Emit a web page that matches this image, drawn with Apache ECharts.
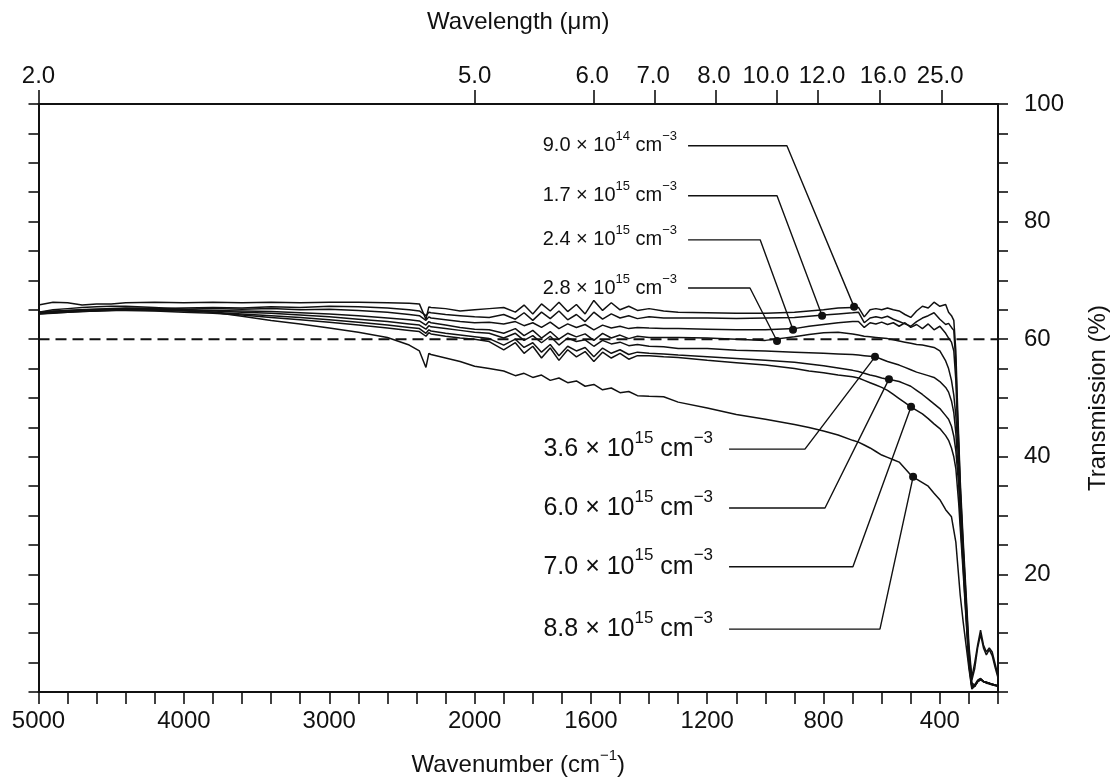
<!DOCTYPE html>
<html><head><meta charset="utf-8">
<script src="https://cdn.jsdelivr.net/npm/echarts@6/dist/echarts.min.js"></script>
<style>html,body{margin:0;padding:0;background:#fff}#c{width:1111px;height:782px}</style>
</head><body><div id="c"></div>
<script>
// ---------- DATA ----------
// shared wavenumber grid (cm^-1), 88 points
const wavenumber = [
 5000,4900,4800,4700,4600,4500,4400,
 4200,4000,3800,3600,3400,3200,3000,
 2800,2600,2450,2380,2335,2315,2300,
 2200,2100,2000,1950,1900,1860,1830,
 1800,1770,1740,1710,1680,1650,1620,
 1590,1560,1530,1500,1470,1440,1400,
 1350,1300,1200,1100,1000,900,850,
 800,750,700,680,660,640,620,
 600,580,560,540,520,500,480,
 460,440,420,400,380,370,360,
 352,345,340,335,330,320,310,
 300,290,280,270,260,250,240,
 230,220,210,200];

// transmission (%) per free-carrier concentration
const T_9_0e14 = [
 65.8,66.3,66.2,65.8,66.0,66.0,66.2,
 66.3,66.2,66.3,66.2,66.3,66.2,66.3,
 66.3,66.2,66.1,66.0,63.4,65.5,65.4,
 65.2,64.8,65.0,65.2,65.4,64.6,65.8,
 64.3,66.0,64.8,66.3,64.7,65.9,64.3,
 66.6,64.9,66.2,65.0,65.6,64.9,65.2,
 64.8,64.6,64.5,64.4,64.4,64.6,64.8,
 65.0,65.3,65.4,65.4,63.8,65.0,65.2,
 65.0,65.3,65.0,64.8,64.2,63.7,64.8,
 65.6,65.3,66.3,65.6,65.9,64.6,64.0,
 63.2,58,50,43,36,26,17,
 8,2.5,5.0,8.0,10.5,8.0,6.8,
 7.5,6.8,4.8,2.8];
const T_1_7e15 = [
 64.6,64.7,64.9,65.0,65.1,65.2,65.3,
 65.2,65.3,65.4,65.3,65.5,65.4,65.6,
 65.5,65.3,65.0,64.8,64.0,64.6,64.5,
 64.2,64.0,63.8,63.7,64.2,63.4,64.5,
 63.2,64.6,63.5,64.8,63.3,64.2,63.0,
 64.6,63.4,64.3,63.6,64.0,63.5,63.8,
 63.6,63.6,63.6,63.5,63.6,63.7,63.9,
 64.1,64.3,64.5,64.6,62.8,63.6,63.8,
 63.6,63.9,63.4,63.0,62.6,62.2,63.0,
 63.6,64.0,64.5,63.4,62.5,62.7,62.0,
 61.5,56,48,42,35,25,16,
 7,2.0,4.0,7.5,9.8,7.5,6.3,
 7.2,6.2,4.2,2.4];
const T_2_4e15 = [
 64.6,64.8,64.9,65.0,65.1,65.1,65.2,
 65.2,65.1,65.2,65.1,65.2,65.0,65.1,
 64.9,64.6,64.2,64.0,63.2,63.8,63.6,
 63.3,63.0,62.8,62.9,62.6,63.0,62.3,
 62.8,62.0,62.9,61.8,62.6,62.0,62.5,
 61.6,62.4,61.9,62.2,61.8,62.0,61.9,
 61.8,61.8,61.7,61.6,61.6,61.8,62.2,
 62.5,62.8,63.0,63.0,62.0,62.8,62.6,
 62.9,62.5,62.8,62.2,62.8,62.0,62.5,
 61.8,62.6,61.6,62.2,61.0,60.2,59.5,
 58,53,46,41,34,24,15,
 6.5,1.5,1.2,2.0,2.3,1.8,1.7,
 1.5,1.3,1.2,1.1];
const T_2_8e15 = [
 64.4,64.5,64.6,64.7,64.8,64.9,65.0,
 65.0,65.0,64.9,64.8,64.7,64.5,64.3,
 64.0,63.6,63.3,63.1,62.4,63.0,62.8,
 62.4,62.0,61.7,61.6,61.0,61.8,60.6,
 61.5,60.2,61.3,60.0,61.0,60.4,60.9,
 59.8,61.0,60.2,60.7,60.1,60.5,60.3,
 60.3,60.3,60.2,60.0,59.8,60.4,60.8,
 61.1,61.2,60.9,60.7,60.5,60.4,60.3,
 60.2,60.1,59.9,59.7,59.5,59.3,59.1,
 59.0,58.8,58.6,58.0,56.3,55.0,53.0,
 50.5,47,43,39,33,23.5,14.5,
 6,1.2,1.0,1.8,2.1,1.7,1.6,
 1.4,1.2,1.1,1.0];
const T_3_6e15 = [
 64.4,64.6,64.8,64.9,65.0,65.1,65.1,
 65.0,64.9,64.8,64.6,64.4,64.1,63.8,
 63.4,63.0,62.6,62.4,61.7,62.3,62.1,
 61.8,61.5,61.2,61.0,60.2,61.0,59.8,
 60.6,59.4,60.5,59.0,60.2,59.6,59.9,
 58.8,59.8,59.2,59.5,58.9,59.1,58.8,
 58.7,58.4,58.4,58.1,58.0,57.8,57.7,
 57.6,57.5,57.4,57.3,57.2,57.1,57.0,
 56.6,56.2,55.9,55.6,55.2,54.8,54.4,
 54.1,53.8,53.5,52.8,51.8,51.0,49.5,
 47.5,44,40,37,31,22.5,14,
 5.5,1.0,1.0,1.8,2.2,1.8,1.6,
 1.5,1.3,1.2,1.0];
const T_6_0e15 = [
 64.3,64.5,64.7,64.8,64.9,65.0,65.0,
 64.9,64.8,64.6,64.3,64.0,63.7,63.3,
 62.9,62.4,62.0,61.8,61.0,61.6,61.4,
 61.0,60.7,60.4,60.1,59.0,60.0,58.6,
 59.4,57.8,59.1,57.2,58.8,58.0,58.6,
 57.0,58.5,57.6,58.2,57.4,57.8,57.6,
 57.5,57.3,57.0,56.7,56.4,56.1,55.8,
 55.5,55.1,54.7,54.5,54.2,53.9,53.7,
 53.4,53.2,53.0,52.8,52.4,52.0,51.3,
 50.6,49.8,49.0,48.2,47.0,46.4,45.2,
 43.5,41,38,35,29.5,21.5,13,
 5,1.0,1.0,1.7,2.1,1.8,1.5,
 1.4,1.3,1.1,1.0];
const T_7_0e15 = [
 64.3,64.4,64.6,64.7,64.8,64.9,64.9,
 64.8,64.6,64.4,64.1,63.7,63.3,62.9,
 62.4,61.9,61.5,61.3,60.5,61.1,60.9,
 60.5,60.2,60.0,59.6,58.2,59.4,57.6,
 58.8,56.8,58.5,56.4,58.2,57.0,57.9,
 56.2,57.8,56.8,57.6,56.6,57.2,57.2,
 57.0,56.9,56.4,56.0,55.6,55.0,54.6,
 54.3,53.9,53.6,53.4,53.0,52.6,52.2,
 51.8,51.3,50.6,49.9,49.2,48.5,47.9,
 47.3,46.5,45.6,44.8,43.6,42.8,41.5,
 40,38,35,32,28,20.5,12.5,
 4.5,0.8,1.0,1.8,2.2,1.8,1.6,
 1.5,1.3,1.2,1.0];
const T_8_8e15 = [
 64.6,65.0,65.2,65.4,65.5,65.6,65.6,
 65.4,65.1,64.6,63.9,63.2,62.6,61.9,
 61.2,60.3,59.0,58.0,55.2,57.6,57.4,
 56.8,56.2,55.4,55.0,54.6,53.8,54.2,
 53.5,53.9,53.0,53.4,52.6,52.9,52.0,
 52.3,51.4,51.7,50.9,51.1,50.4,50.3,
 50.2,49.3,48.3,47.2,46.4,45.5,45.0,
 44.4,43.7,42.8,42.5,42.0,41.5,40.9,
 40.3,39.9,39.5,39.1,38.0,36.9,36.2,
 35.6,35.0,33.8,32.7,31.0,30.4,29.8,
 27.5,25.5,22.5,19.5,16.5,12,8,
 4,0.5,1.0,1.8,2.2,1.8,1.6,
 1.5,1.3,1.2,1.0];

const curves = [T_9_0e14,T_1_7e15,T_2_4e15,T_2_8e15,T_3_6e15,T_6_0e15,T_7_0e15,T_8_8e15];

// annotation labels
const mantissas = ['9.0','1.7','2.4','2.8','3.6','6.0','7.0','8.8'];
const exponents = ['14','15','15','15','15','15','15','15'];
const dotWavenumber    = [695, 805, 905, 960, 623, 575, 499, 492];
const dotTransmission  = [65.5, 64.0, 61.6, 59.7, 57.0, 53.2, 48.5, 36.6];
const elbowWavenumber  = [926, 960, 1018, 1053, 864, 795, 699, 606];
const labelTransmission= [92.9, 84.4, 76.9, 68.7, 41.3, 31.3, 21.3, 10.7];
const labelStartWavenumber = [1266,1266,1266,1266,1125,1125,1125,1125];

// axis tick labels
const bottomLabels = [5000,4000,3000,2000,1600,1200,800,400];
const topTickLabels = ['2.0','5.0','6.0','7.0','8.0','10.0','12.0','16.0','25.0'];
const topTickWavenumbers  = [5000,2000,1589,1380,1170,960,821,605,392]; // tick marks as drawn in the figure
const topLabelWavenumbers = [5000,2000,1596,1386,1177,998,805,595,399]; // label centres as drawn
const rightLabels = [20,40,60,80,100];
const referenceLevel = 60;

// ---------- piecewise axis (scale doubles below 2000 cm^-1) ----------
function toT(w){ return w >= 2000 ? 5000 - w : 3000 + 2*(2000 - w); }
function toW(t){ return t <= 3000 ? 5000 - t : 2000 - (t - 3000)/2; }

const F = "'Liberation Sans', Arial, Helvetica, sans-serif";
const INK = '#111';

const series = [];
series.push({
  type:'line', data:[[toT(5000),referenceLevel],[toT(200),referenceLevel]],
  symbol:'none', lineStyle:{color:INK,width:2,type:[11,6]}, silent:true, z:1
});
curves.forEach(c => {
  series.push({
    type:'line', data: wavenumber.map((w,i)=>[toT(w), c[i]]),
    symbol:'none', lineStyle:{color:INK,width:1.5}, silent:true, z:2
  });
});
for (let i=0;i<8;i++){
  series.push({
    type:'line', data:[[toT(labelStartWavenumber[i]),labelTransmission[i]],[toT(elbowWavenumber[i]),labelTransmission[i]],[toT(dotWavenumber[i]),dotTransmission[i]]],
    symbol:'none', lineStyle:{color:INK,width:1.4}, silent:true, z:3
  });
}
series.push({
  type:'scatter', data: dotWavenumber.map((w,i)=>[toT(w),dotTransmission[i]]),
  symbol:'circle', symbolSize:8, itemStyle:{color:INK, opacity:1}, silent:true, z:4
});
function labelSeries(idx, fs, ss, dist){
  return {
    type:'scatter', symbolSize:0, silent:true, z:5,
    itemStyle:{color:INK, opacity:1},
    data: idx.map(i => ({
      value:[toT(labelStartWavenumber[i]), labelTransmission[i]],
      label:{formatter:'{n|'+mantissas[i]+' \u00d7 10}{s|'+exponents[i]+'}{n| cm}{s|\u22123}'}
    })),
    label:{show:true, position:'left', distance:dist, color:INK, opacity:1, fontFamily:F,
      rich:{ n:{fontSize:fs, fontFamily:F, color:INK, lineHeight:Math.round(fs*1.55)},
             s:{fontSize:ss, fontFamily:F, color:INK, verticalAlign:'top', lineHeight:Math.round(ss*1.1)} } }
  };
}
series.push(labelSeries([0,1,2,3], 20, 13, 11));
series.push(labelSeries([4,5,6,7], 25, 17, 16));

const axisLine = {show:true, onZero:false, lineStyle:{color:INK,width:2}};
const tickStyle = {color:INK,width:1.6};

const option = {
  backgroundColor:'#fff',
  animation:false,
  grid:{left:38.5, top:104, width:959.5, height:588, containLabel:false, outerBoundsMode:'none'},
  xAxis:[{
    type:'value', position:'bottom', min:0, max:6600, interval:200,
    axisLine, axisTick:{show:true,length:12,lineStyle:tickStyle},
    axisLabel:{show:true, margin:17, fontSize:24, color:INK, fontFamily:F, showMinLabel:true, showMaxLabel:true,
      formatter: v => { const w = Math.round(toW(v)); return bottomLabels.includes(w) ? String(w) : ''; }},
    splitLine:{show:false},
    name:'{n|Wavenumber (cm}{s|\u22121}{n|)}', nameLocation:'middle', nameGap:56,
    nameTextStyle:{rich:{ n:{fontSize:24,fontFamily:F,color:INK,lineHeight:34},
                          s:{fontSize:15,fontFamily:F,color:INK,verticalAlign:'top',lineHeight:17} }}
  },{
    type:'value', position:'top', min:0, max:6600,
    axisLine,
    axisTick:{show:true,length:14,lineStyle:tickStyle, customValues: topTickWavenumbers.map(toT)},
    axisLabel:{show:true, margin:16, fontSize:24, color:INK, fontFamily:F,
      customValues: topLabelWavenumbers.map(toT),
      formatter: v => { const i = topLabelWavenumbers.findIndex(w => Math.abs(toT(w)-v) < 1); return i>=0 ? topTickLabels[i] : ''; }},
    splitLine:{show:false},
    name:'Wavelength (\u03bcm)', nameLocation:'middle', nameGap:70,
    nameTextStyle:{fontSize:24,fontFamily:F,color:INK}
  }],
  yAxis:[{
    type:'value', position:'right', min:0, max:100, interval:5,
    axisLine, axisTick:{show:true,length:10,lineStyle:tickStyle},
    axisLabel:{show:true, margin:26, fontSize:24, color:INK, fontFamily:F,
      formatter: v => rightLabels.includes(v) ? String(v) : ''},
    splitLine:{show:false},
    name:'Transmission (%)', nameLocation:'middle', nameRotate:90, nameGap:88,
    nameTextStyle:{fontSize:24,fontFamily:F,color:INK}
  },{
    type:'value', position:'left', min:0, max:100, interval:5,
    axisLine, axisTick:{show:true,length:10,lineStyle:tickStyle},
    axisLabel:{show:false}, splitLine:{show:false}
  }],
  series
};
const chart = echarts.init(document.getElementById('c'), null, {renderer:'canvas'});
chart.setOption(option);
</script></body></html>
